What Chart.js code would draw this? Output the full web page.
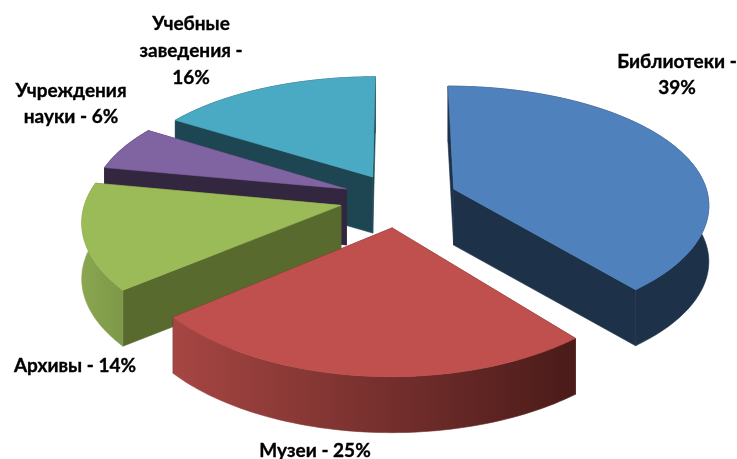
<!DOCTYPE html>
<html><head><meta charset="utf-8">
<script src="https://cdn.jsdelivr.net/npm/chart.js@4"></script>
<style>html,body{margin:0;padding:0;background:#fff}canvas{display:block}</style>
</head><body><canvas id="c" width="737" height="459"></canvas>
<script>
const categories = ['Библиотеки','Музеи','Архивы','Учреждения науки','Учебные заведения'];
const values = [39,25,14,6,16];
const explode = [48,49,47,45,43];
const topColors = ['#4f81bd','#bf504d','#9bbb59','#8064a2','#4aa9c3'];
const cutColors = ['#1d3149','#4a1b19','#596a2f','#33263f','#1d4552'];
const wallFrom = ['#1d3149','#a64643','#8aa650','#33263f','#1d4552'];
const wallTo = ['#1d3149','#4a1b19','#7d9848','#33263f','#1d4552'];
const drawOrder = [4,3,0,2,1];

const view = {cx:398, cy:198.5, Rx:255, Ry:119.5, px:0.115, py:0.137, depth:56};
const labelBoxes = [
  {x:677,y:[62,88],lines:i=>[categories[i]+' -',values[i]+'%']},
  {x:315,y:[451],lines:i=>[categories[i]+' - '+values[i]+'%']},
  {x:75,y:[366],lines:i=>[categories[i]+' - '+values[i]+'%']},
  {x:71,y:[91,117],lines:i=>[categories[i].split(' ')[0],categories[i].split(' ')[1]+' - '+values[i]+'%']},
  {x:191,y:[24,51,78],lines:i=>[categories[i].split(' ')[0],categories[i].split(' ')[1]+' -',values[i]+'%']}
];

function project(u,v,z){
  return [view.cx+view.Rx*u/(1-view.px*v), view.cy+view.Ry*v/(1-view.py*v)+view.depth*z];
}
function poly(ctx,pts,fill){
  ctx.beginPath();
  pts.forEach((p,i)=>i?ctx.lineTo(p[0],p[1]):ctx.moveTo(p[0],p[1]));
  ctx.closePath();
  ctx.fillStyle=fill;ctx.strokeStyle=fill;ctx.lineWidth=0.6;
  ctx.fill();ctx.stroke();
}
const pie3d={
  id:'pie3d',
  beforeDatasetsDraw(chart){
    const ctx=chart.ctx, arcs=chart.getDatasetMeta(0).data;
    drawOrder.forEach(i=>{
      const a=arcs[i], r=a.outerRadius, mid=(a.startAngle+a.endAngle)/2;
      const off=a.options.offset/r, ou=Math.cos(mid)*off, ov=Math.sin(mid)*off;
      const N=64, rim=[];
      for(let n=0;n<=N;n++){
        const t=a.startAngle+(a.endAngle-a.startAngle)*n/N;
        rim.push([ou+Math.cos(t),ov+Math.sin(t)]);
      }
      const P=(q,z)=>project(q[0],q[1],z), apex=[ou,ov];
      const sEdge=rim[0], eEdge=rim[N];
      poly(ctx,[P(apex,0),P(sEdge,0),P(sEdge,1),P(apex,1)],cutColors[i]);
      poly(ctx,[P(apex,0),P(eEdge,0),P(eEdge,1),P(apex,1)],cutColors[i]);
      const xs=rim.map(q=>P(q,0)[0]), x0=Math.min(...xs), x1=Math.max(...xs);
      const g=ctx.createLinearGradient(x0,0,x1,0);
      g.addColorStop(0,wallFrom[i]);g.addColorStop(1,wallTo[i]);
      poly(ctx,rim.map(q=>P(q,0)).concat(rim.slice().reverse().map(q=>P(q,1))),g);
      poly(ctx,[P(apex,0)].concat(rim.map(q=>P(q,0))),topColors[i]);
    });
    ctx.save();
    ctx.font='bold 19px Lato';ctx.fillStyle='#000';ctx.strokeStyle='#000';ctx.lineWidth=0.35;
    ctx.textAlign='center';ctx.textBaseline='middle';
    labelBoxes.forEach((b,i)=>b.lines(i).forEach((l,j)=>{ctx.fillText(l,b.x,b.y[j]);ctx.strokeText(l,b.x,b.y[j]);}));
    ctx.restore();
    return false;
  }
};
new Chart(document.getElementById('c'),{
  type:'pie',
  data:{labels:categories,datasets:[{data:values,backgroundColor:topColors,offset:explode,borderWidth:0}]},
  options:{responsive:false,animation:false,rotation:0,
    layout:{padding:0},
    plugins:{legend:{display:false},tooltip:{enabled:false}}},
  plugins:[pie3d]
});
</script></body></html>
